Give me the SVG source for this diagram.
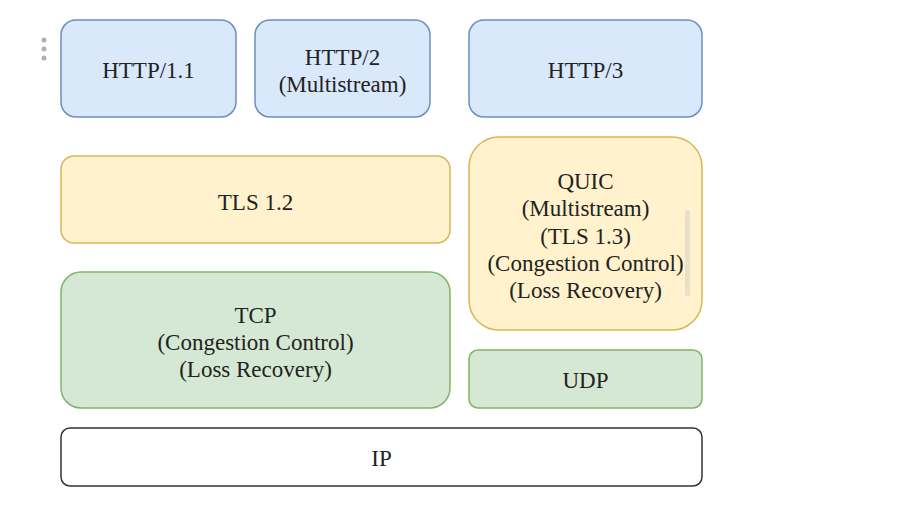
<svg xmlns="http://www.w3.org/2000/svg" width="914" height="512" viewBox="0 0 914 512">
<style>
.blue{fill:#dae8fc;stroke:#6c8ebf;stroke-width:1.5}
.yellow{fill:#fff2cc;stroke:#d6b656;stroke-width:1.5}
.green{fill:#d5e8d4;stroke:#82b366;stroke-width:1.5}
.white{fill:#ffffff;stroke:#333333;stroke-width:1.5}
text{font-family:"Liberation Serif","Times New Roman",serif;font-size:23px;fill:#222222;text-anchor:middle}
</style>
<rect width="914" height="512" fill="#ffffff"/>
<g id="ui-dots" fill="#b0b0b0">
<circle cx="44" cy="40" r="2.5"/>
<circle cx="44" cy="49" r="2.5"/>
<circle cx="44" cy="58" r="2.5"/>
</g>
<g id="connectors"></g>
<g id="http11"><rect class="blue" x="61" y="20" width="175" height="97" rx="15"/><text x="148.5" y="78">HTTP/1.1</text></g>
<g id="http2"><rect class="blue" x="255" y="20" width="175" height="97" rx="15"/><text x="342.5" y="65">HTTP/2</text><text x="342.5" y="92">(Multistream)</text></g>
<g id="http3"><rect class="blue" x="469" y="20" width="233" height="97" rx="15"/><text x="585.5" y="78">HTTP/3</text></g>
<g id="tls12"><rect class="yellow" x="61" y="156" width="389" height="87" rx="13"/><text x="255.5" y="210">TLS 1.2</text></g>
<g id="quic"><rect class="yellow" x="469" y="137" width="233" height="193" rx="30"/>
<text x="585.5" y="189">QUIC</text>
<text x="585.5" y="216">(Multistream)</text>
<text x="585.5" y="244">(TLS 1.3)</text>
<text x="585.5" y="271">(Congestion Control)</text>
<text x="585.5" y="298">(Loss Recovery)</text>
<rect x="685" y="210" width="5" height="86" rx="2.5" fill="#e8e0c8"/>
</g>
<g id="tcp"><rect class="green" x="61" y="272" width="389" height="136" rx="20"/>
<text x="255.5" y="323">TCP</text>
<text x="255.5" y="350">(Congestion Control)</text>
<text x="255.5" y="377">(Loss Recovery)</text>
</g>
<g id="udp"><rect class="green" x="469" y="350" width="233" height="58" rx="9"/><text x="585.5" y="388">UDP</text></g>
<g id="ip"><rect class="white" x="61" y="428" width="641" height="58" rx="9"/><text x="381.5" y="466">IP</text></g>
</svg>
